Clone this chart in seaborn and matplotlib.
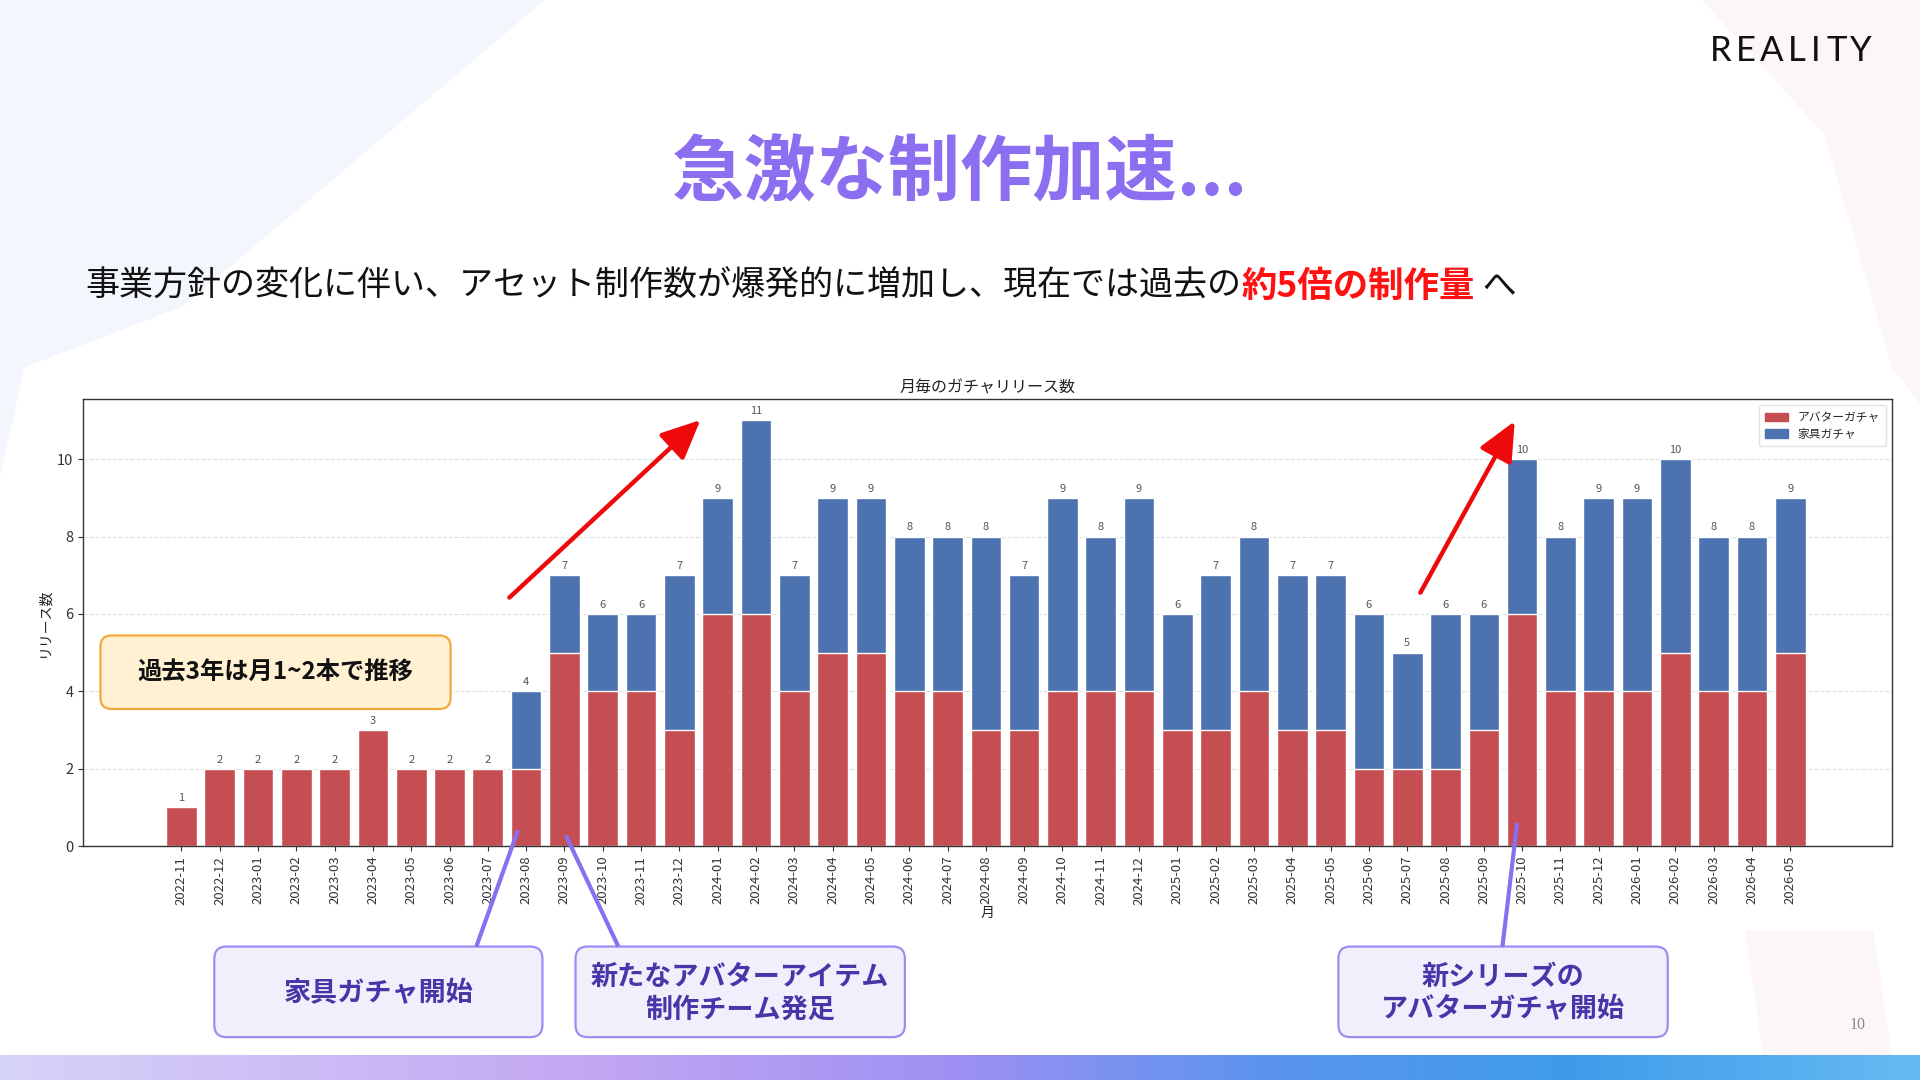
import numpy as np
import pandas as pd
import matplotlib
matplotlib.use("Agg")
import matplotlib.pyplot as plt
import seaborn as sns
from matplotlib.patches import FancyBboxPatch, Patch, Polygon
from matplotlib.colors import LinearSegmentedColormap

# ---------------- data ----------------
months = [
    "2022-11", "2022-12",
    "2023-01", "2023-02", "2023-03", "2023-04", "2023-05", "2023-06",
    "2023-07", "2023-08", "2023-09", "2023-10", "2023-11", "2023-12",
    "2024-01", "2024-02", "2024-03", "2024-04", "2024-05", "2024-06",
    "2024-07", "2024-08", "2024-09", "2024-10", "2024-11", "2024-12",
    "2025-01", "2025-02", "2025-03", "2025-04", "2025-05", "2025-06",
    "2025-07", "2025-08", "2025-09", "2025-10", "2025-11", "2025-12",
    "2026-01", "2026-02", "2026-03", "2026-04", "2026-05",
]
avatar_gacha = [
    1, 2,
    2, 2, 2, 3, 2, 2,
    2, 2, 5, 4, 4, 3,
    6, 6, 4, 5, 5, 4,
    4, 3, 3, 4, 4, 4,
    3, 3, 4, 3, 3, 2,
    2, 2, 3, 6, 4, 4,
    4, 5, 4, 4, 5,
]
furniture_gacha = [
    0, 0,
    0, 0, 0, 0, 0, 0,
    0, 2, 2, 2, 2, 4,
    3, 5, 3, 4, 4, 4,
    4, 5, 4, 5, 4, 5,
    3, 4, 4, 4, 4, 4,
    3, 4, 3, 4, 4, 5,
    5, 5, 4, 4, 4,
]
series_names = ["アバターガチャ", "家具ガチャ"]

page_title = "急激な制作加速..."
subtitle_a = "事業方針の変化に伴い、アセット制作数が爆発的に増加し、現在では過去の"
subtitle_b = "約5倍の制作量"
subtitle_c = " へ"
chart_title = "月毎のガチャリリース数"
y_label = "リリース数"
x_label = "月"
note_past = "過去3年は月1~2本で推移"
callouts = ["家具ガチャ開始", "新たなアバターアイテム\n制作チーム発足", "新シリーズの\nアバターガチャ開始"]
logo_text = "REALITY"

# ---------------- style ----------------
sns.set_theme(style="white")
plt.rcParams["font.family"] = ["Noto Sans CJK JP", "DejaVu Sans"]

RED = "#C44E52"
BLUE = "#4C72B0"
PURPLE_T = "#8C6EF0"
W, H = 1568.0, 882.0

fig = plt.figure(figsize=(19.2, 10.8), dpi=100, facecolor="white")

# background decorations
bg = fig.add_axes([0, 0, 1, 1], zorder=-5)
bg.set_xlim(0, W); bg.set_ylim(H, 0); bg.axis("off")
bg.add_patch(Polygon([(0, 0), (445, 0), (150, 250), (20, 300), (0, 390)],
                     closed=True, facecolor="#F3F7FD", edgecolor="none"))
bg.add_patch(Polygon([(1390, 0), (1568, 0), (1568, 330), (1545, 300), (1490, 110)],
                     closed=True, facecolor="#FCF6FB", edgecolor="none"))
bg.add_patch(Polygon([(1425, 760), (1530, 760), (1545, 862), (1440, 862)],
                     closed=True, facecolor="#FDF6F9", edgecolor="none"))

# ---------------- chart ----------------
df = pd.DataFrame({"月": months, series_names[0]: avatar_gacha, series_names[1]: furniture_gacha})
df["合計"] = df[series_names[0]] + df[series_names[1]]

ax = fig.add_axes([68 / W, 1 - 691 / H, (1545 - 68) / W, (691 - 326) / H], zorder=1)
ax.set_facecolor("white")
sns.barplot(data=df, x="月", y="合計", color=BLUE, width=0.8, saturation=1, ax=ax)
sns.barplot(data=df, x="月", y=series_names[0], color=RED, width=0.8, saturation=1, ax=ax)

ax.bar_label(ax.containers[0], labels=[str(v) for v in df["合計"]],
             padding=3, fontsize=8, color="#555555")

ax.set_xlim(-2.56, 44.65)
ax.set_ylim(0, 11.55)
ax.set_yticks([0, 2, 4, 6, 8, 10])
ax.tick_params(axis="x", rotation=90, labelsize=9.5, bottom=True, length=3.5,
               width=0.8, color="#333333", labelcolor="#333333")
ax.tick_params(axis="y", labelsize=10.5, left=True, length=3.5,
               width=0.8, color="#333333", labelcolor="#333333")
ax.yaxis.grid(True, linestyle="--", color="#CCCCCC", alpha=0.6, lw=0.8)
ax.set_axisbelow(True)
for sp in ax.spines.values():
    sp.set_color("#333333")
    sp.set_linewidth(1.0)
ax.set_title(chart_title, fontsize=11.5, color="#222222", pad=5)
ax.set_ylabel(y_label, fontsize=10, color="#222222")
ax.set_xlabel(x_label, fontsize=10, color="#222222", labelpad=1)
ax.legend(handles=[Patch(color=RED, label=series_names[0]),
                   Patch(color=BLUE, label=series_names[1])],
          loc="upper right", fontsize=8.5, frameon=True, edgecolor="#DDDDDD",
          handlelength=2.0, borderpad=0.5, labelspacing=0.3)

# ---------------- overlay ----------------
ov = fig.add_axes([0, 0, 1, 1], zorder=10)
ov.set_xlim(0, W); ov.set_ylim(H, 0); ov.axis("off")
ov.patch.set_alpha(0)

# letter-spaced logo
for ch, cx in zip(logo_text, [1405, 1426, 1447, 1467, 1483, 1500, 1520]):
    ov.text(cx, 42, ch, fontsize=25, ha="center", va="center", color="#111111",
            family=["Lato", "DejaVu Sans"], fontweight="normal")

ov.text(784, 142, page_title, fontsize=52, fontweight="bold", color=PURPLE_T,
        ha="center", va="center")

t1 = ov.text(70, 234, subtitle_a, fontsize=24.5, color="#111111", ha="left", va="center")
t2 = ov.annotate(subtitle_b, xy=(1, 0), xycoords=t1, ha="left", va="bottom",
                 fontsize=25.5, fontweight="bold", color="#FF1111")
ov.annotate(subtitle_c, xy=(1, 0), xycoords=t2, ha="left", va="bottom",
            fontsize=24.5, color="#111111")

# past note box
ov.add_patch(FancyBboxPatch((82, 519), 286, 60, boxstyle="round,pad=0,rounding_size=9",
                            facecolor="#FFF1D2", edgecolor="#F2A93B", lw=1.6))
ov.text(225, 549, note_past, fontsize=17.5, fontweight="bold", color="#111111",
        ha="center", va="center")

# red arrows
arrow_kw = dict(arrowstyle="-|>,head_length=1.2,head_width=0.55", color="#EE0A0A",
                lw=3.2, shrinkA=0, shrinkB=0, mutation_scale=20)
ov.annotate("", xy=(572, 343), xytext=(416, 488), arrowprops=arrow_kw)
ov.annotate("", xy=(1237, 344), xytext=(1160, 484), arrowprops=arrow_kw)

# callouts
LINE_C = "#8A6FF0"
ov.plot([389, 423], [773, 678], color=LINE_C, lw=3, solid_capstyle="butt")
ov.plot([505, 462], [773, 682], color=LINE_C, lw=3, solid_capstyle="butt")
ov.plot([1227, 1239], [773, 672], color=LINE_C, lw=3, solid_capstyle="butt")

for (x0, x1), txt in zip([(175, 443), (470, 739), (1093, 1362)], callouts):
    ov.add_patch(FancyBboxPatch((x0, 773), x1 - x0, 74,
                                boxstyle="round,pad=0,rounding_size=10",
                                facecolor="#F2EFFD", edgecolor="#9F8CF0", lw=1.6))
    ov.text((x0 + x1) / 2, 811, txt, fontsize=19.5, fontweight="bold", color="#4636A8",
            ha="center", va="center", linespacing=1.22)

ov.text(1517, 837, "10", fontsize=11.5, color="#888888", ha="center", va="center",
        family=["Liberation Serif", "DejaVu Serif"])

# bottom gradient band
grad_cmap = LinearSegmentedColormap.from_list(
    "band",
    [(0.0, "#D6D3F8"), (0.3, "#C3A8F3"), (0.5, "#9D90F2"),
     (0.66, "#5B94EE"), (0.82, "#3E9CEA"), (1.0, "#66BAF2")])
ov.imshow(np.linspace(0, 1, 512)[None, :], cmap=grad_cmap, aspect="auto",
          extent=(0, W, H, 862), zorder=0)
ov.set_xlim(0, W); ov.set_ylim(H, 0)

fig.savefig("out.png", dpi=100, facecolor="white")
